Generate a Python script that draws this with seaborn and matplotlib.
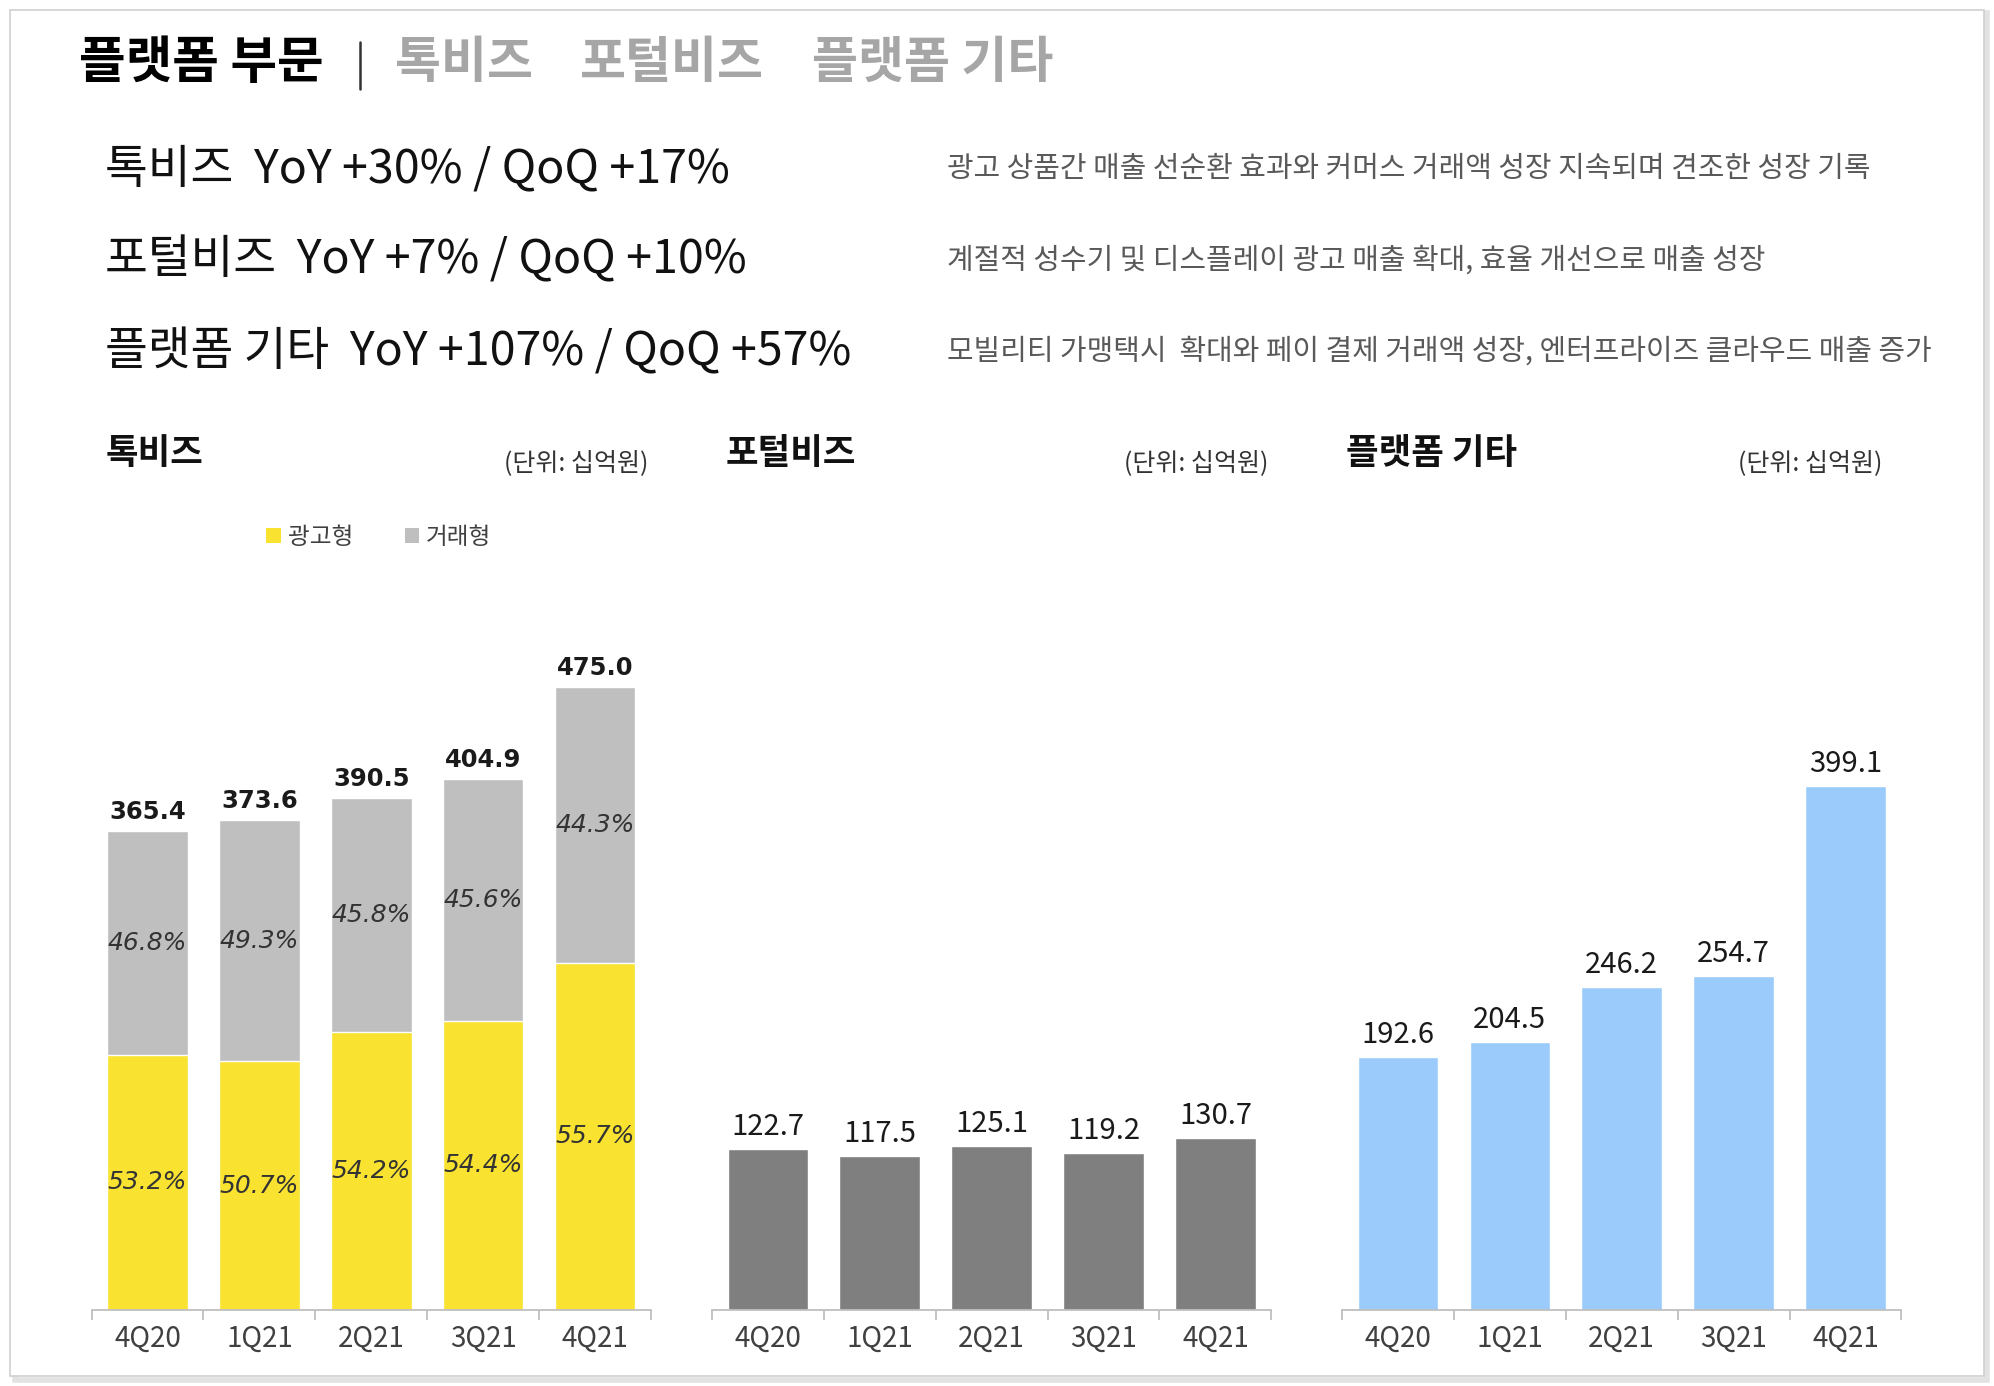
import matplotlib
matplotlib.use('Agg')
import matplotlib.pyplot as plt
import seaborn as sns
from matplotlib.patches import Patch, Rectangle
from matplotlib.lines import Line2D

# ─── Data (단위: 십억원) ───────────────────────────────────────────────────────
quarters = ['4Q20', '1Q21', '2Q21', '3Q21', '4Q21']

talk_total = [365.4, 373.6, 390.5, 404.9, 475.0]
talk_ad_pct = [53.2, 50.7, 54.2, 54.4, 55.7]
talk_trade_pct = [46.8, 49.3, 45.8, 45.6, 44.3]

portal_total = [122.7, 117.5, 125.1, 119.2, 130.7]
other_total = [192.6, 204.5, 246.2, 254.7, 399.1]

headline_lines = ['톡비즈  YoY +30% / QoQ +17%',
                  '포털비즈  YoY +7% / QoQ +10%',
                  '플랫폼 기타  YoY +107% / QoQ +57%']
comment_lines = ['광고 상품간 매출 선순환 효과와 커머스 거래액 성장 지속되며 견조한 성장 기록',
                 '계절적 성수기 및 디스플레이 광고 매출 확대, 효율 개선으로 매출 성장',
                 '모빌리티 가맹택시  확대와 페이 결제 거래액 성장, 엔터프라이즈 클라우드 매출 증가']
panel_titles = ['톡비즈', '포털비즈', '플랫폼 기타']
unit_label = '(단위: 십억원)'
legend_labels = ['광고형', '거래형']

# ad-type part of TalkBiz, derived from the share printed in the bar
talk_ad = [t * p / 100 for t, p in zip(talk_total, talk_ad_pct)]

YELLOW = '#F9E230'
LGRAY = '#BFBFBF'
DGRAY = '#7F7F7F'
BLUE = '#9BCBFA'

sns.set_theme(style='white')
plt.rcParams['font.family'] = ['Noto Sans CJK KR', 'DejaVu Sans']

fig = plt.figure(figsize=(19.94, 13.86), dpi=100)

# ─── Frame ────────────────────────────────────────────────────────────────────
fig.add_artist(Rectangle((0.0075, 0.0045), 0.989, 0.986, transform=fig.transFigure,
                         facecolor='none', edgecolor='#e2e2e2', lw=4, zorder=0))
fig.add_artist(Rectangle((0.0051, 0.0073), 0.9898, 0.9854, transform=fig.transFigure,
                         facecolor='white', edgecolor='#cfcfcf', lw=1.2, zorder=0))

# ─── Header ───────────────────────────────────────────────────────────────────
fig.text(0.0395, 0.954, '플랫폼 부문', fontsize=36.5, fontweight='bold',
         color='black', va='center')
fig.add_artist(Line2D([0.1805, 0.1805], [0.936, 0.970], transform=fig.transFigure,
                      color='#333333', lw=1.8))
for x, s in zip([0.198, 0.291, 0.407], panel_titles):
    fig.text(x, 0.954, s, fontsize=36, fontweight='bold', color='#A6A6A6', va='center')

for y, head, note in zip([0.878, 0.812, 0.746], headline_lines, comment_lines):
    fig.text(0.0529, y, head, fontsize=33.5, color='#111111', va='center')
    fig.text(0.475, y, note, fontsize=20.8, color='#595959', va='center')

# ─── Panels ───────────────────────────────────────────────────────────────────
lefts = [0.0459, 0.357, 0.673]
title_x = [0.0529, 0.364, 0.675]
unit_x = [0.325, 0.636, 0.944]
axes = [fig.add_axes([l, 0.055, 0.2806, 0.511]) for l in lefts]

# 톡비즈: stacked (거래형 on top of 광고형)
ax = axes[0]
sns.barplot(x=quarters, y=talk_total, color=LGRAY, saturation=1, width=0.72, ax=ax)
sns.barplot(x=quarters, y=talk_ad, color=YELLOW, saturation=1, width=0.72, ax=ax)
ax.bar_label(ax.containers[0], labels=[f'{v:.1f}' for v in talk_total], padding=5,
             fontsize=17.5, fontweight='bold', color='#1a1a1a', family='DejaVu Sans')
ax.bar_label(ax.containers[1], labels=[f'{p}%' for p in talk_ad_pct], label_type='center',
             fontsize=18, style='italic', color='#333333', family='DejaVu Sans')
for i, (t, a, p) in enumerate(zip(talk_total, talk_ad, talk_trade_pct)):
    ax.text(i, a + (t - a) / 2, f'{p}%', ha='center', va='center', fontsize=18,
            style='italic', color='#333333', family='DejaVu Sans')

# 포털비즈
ax = axes[1]
sns.barplot(x=quarters, y=portal_total, color=DGRAY, saturation=1, width=0.72, ax=ax)
ax.bar_label(ax.containers[0], labels=[f'{v:.1f}' for v in portal_total], padding=5,
             fontsize=21, fontweight='medium', color='#1a1a1a')

# 플랫폼 기타
ax = axes[2]
sns.barplot(x=quarters, y=other_total, color=BLUE, saturation=1, width=0.72, ax=ax)
ax.bar_label(ax.containers[0], labels=[f'{v:.1f}' for v in other_total], padding=5,
             fontsize=21, fontweight='medium', color='#1a1a1a')

for ax in axes:
    ax.set_ylim(0, 540)
    ax.set_xlim(-0.5, 4.5)
    ax.set_facecolor('none')
    sns.despine(ax=ax, left=True)
    ax.spines['bottom'].set_color('#BFBFBF')
    ax.spines['bottom'].set_linewidth(1.3)
    ax.set_yticks([])
    ax.set_xticks(range(len(quarters)))
    ax.set_xticklabels(quarters, fontsize=20, color='#404040')
    ax.set_xticks([i - 0.5 for i in range(len(quarters) + 1)], minor=True)
    ax.tick_params(axis='x', which='major', length=0, pad=10)
    ax.tick_params(axis='x', which='minor', length=7, width=1.3, color='#BFBFBF',
                   direction='out', bottom=True)
    ax.set_xlabel('')
    ax.set_ylabel('')

for tx, ux, s in zip(title_x, unit_x, panel_titles):
    fig.text(tx, 0.673, s, fontsize=25.5, fontweight='bold', color='#111111', va='center')
    fig.text(ux, 0.666, unit_label, fontsize=18, color='#333333', va='center', ha='right')

# legend for the stacked TalkBiz chart
handles = [Patch(facecolor=YELLOW, edgecolor='none'), Patch(facecolor=LGRAY, edgecolor='none')]
leg = fig.legend(handles, legend_labels, loc='center', bbox_to_anchor=(0.19, 0.612),
                 ncol=2, frameon=False, fontsize=17, handlelength=0.6, handleheight=0.6,
                 handletextpad=0.3, columnspacing=2.2)
for t in leg.get_texts():
    t.set_color('#404040')

fig.savefig('out.png', dpi=100)
